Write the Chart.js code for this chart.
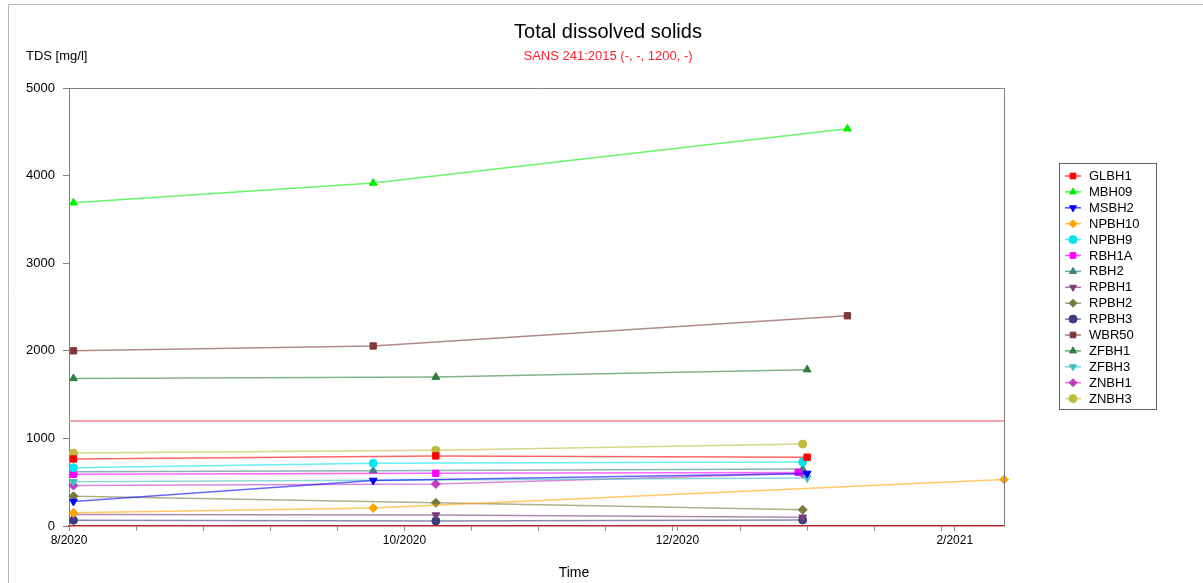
<!DOCTYPE html>
<html>
<head>
<meta charset="utf-8">
<script src="https://cdn.jsdelivr.net/npm/chart.js@4.4.0/dist/chart.umd.min.js"></script>
<style>
  html, body { margin: 0; padding: 0; background: #ffffff; }
  #wrap { width: 1203px; height: 583px; position: relative; }
</style>
</head>
<body>
<div id="wrap"><canvas id="c" width="1203" height="583"></canvas></div>
<script>
// Sampling dates (one column per field visit)
const sampleDates = ['2020-07-19', '2020-09-24', '2020-10-08', '2020-12-28', '2020-12-29', '2020-12-30', '2021-01-08', '2021-02-12'];

// TDS per borehole in mg/l, aligned with sampleDates (null = not sampled)
const GLBH1  = [765,  null, 800,  null, null, 785,  null, null];
const MBH09  = [3690, 3915, null, null, null, null, 4535, null];
const MSBH2  = [280,  520,  null, null, null, 600,  null, null];
const NPBH10 = [150,  205,  null, null, null, null, null, 530];
const NPBH9  = [665,  715,  null, null, 730,  null, null, null];
const RBH1A  = [590,  null, 601,  612,  null, null, null, null];
const RBH2   = [620,  632,  null, null, 650,  null, null, null];
const RPBH1  = [130,  null, 125,  null, 100,  null, null, null];
const RPBH2  = [340,  null, 265,  null, 185,  null, null, null];
const RPBH3  = [65,   null, 58,   null, 68,   null, null, null];
const WBR50  = [2000, 2055, null, null, null, null, 2400, null];
const ZFBH1  = [1685, null, 1700, null, null, 1785, null, null];
const ZFBH3  = [505,  null, null, null, null, 548,  null, null];
const ZNBH1  = [462,  null, 480,  null, 598,  null, null, null];
const ZNBH3  = [832,  null, 866,  null, 936,  null, null, null];

const seriesNames = ['GLBH1', 'MBH09', 'MSBH2', 'NPBH10', 'NPBH9', 'RBH1A', 'RBH2', 'RPBH1', 'RPBH2', 'RPBH3', 'WBR50', 'ZFBH1', 'ZFBH3', 'ZNBH1', 'ZNBH3'];
const seriesValues = [GLBH1, MBH09, MSBH2, NPBH10, NPBH9, RBH1A, RBH2, RPBH1, RPBH2, RPBH3, WBR50, ZFBH1, ZFBH3, ZNBH1, ZNBH3];

// SANS 241:2015 limit for TDS
const tdsLimit = 1200;

// Axis range and labels
const axisStart = '2020-07-18';
const axisEnd = '2021-02-12';
const xTickDates = ['2020-07-18', '2020-10-01', '2020-12-01', '2021-02-01'];
const xTickLabels = ['8/2020', '10/2020', '12/2020', '2/2021'];
const minorStepDays = 15;
const yTicks = [0, 1000, 2000, 3000, 4000, 5000];

// Marker styling per borehole
const styles = {
  GLBH1:  { color: '#ff0000', shape: 'rect',     rot: 0 },
  MBH09:  { color: '#00ee00', shape: 'triangle', rot: 0 },
  MSBH2:  { color: '#0000ff', shape: 'triangle', rot: 180 },
  NPBH10: { color: '#ffa500', shape: 'rectRot',  rot: 0 },
  NPBH9:  { color: '#00e5ee', shape: 'circle',   rot: 0 },
  RBH1A:  { color: '#ff00ff', shape: 'rect',     rot: 0 },
  RBH2:   { color: '#3c8080', shape: 'triangle', rot: 0 },
  RPBH1:  { color: '#7a3c7a', shape: 'triangle', rot: 180 },
  RPBH2:  { color: '#7a7a3c', shape: 'rectRot',  rot: 0 },
  RPBH3:  { color: '#3c3c80', shape: 'circle',   rot: 0 },
  WBR50:  { color: '#7f3a3a', shape: 'rect',     rot: 0 },
  ZFBH1:  { color: '#2f7f3c', shape: 'triangle', rot: 0 },
  ZFBH3:  { color: '#3cc0c0', shape: 'triangle', rot: 180 },
  ZNBH1:  { color: '#c03cc0', shape: 'rectRot',  rot: 0 },
  ZNBH3:  { color: '#bdbd3a', shape: 'circle',   rot: 0 }
};

const FONT = '"Liberation Sans", Arial, sans-serif';

function dayNum(s) {
  const p = s.split('-').map(Number);
  return Date.UTC(p[0], p[1] - 1, p[2]) / 86400000;
}

function withAlpha(hex, a) {
  const n = parseInt(hex.slice(1), 16);
  return 'rgba(' + ((n >> 16) & 255) + ',' + ((n >> 8) & 255) + ',' + (n & 255) + ',' + a + ')';
}

const xMin = dayNum(axisStart);
const xMax = dayNum(axisEnd);
const xLabelByDay = {};
xTickDates.forEach((d, i) => { xLabelByDay[dayNum(d)] = xTickLabels[i]; });

const datasets = seriesNames.map((name, i) => {
  const st = styles[name];
  const pts = [];
  seriesValues[i].forEach((v, j) => {
    if (v !== null) pts.push({ x: dayNum(sampleDates[j]), y: v });
  });
  return {
    label: name,
    data: pts,
    borderColor: withAlpha(st.color, 0.6),
    backgroundColor: st.color,
    pointBackgroundColor: st.color,
    pointBorderColor: st.color,
    pointStyle: st.shape,
    pointRotation: st.rot,
    pointRadius: st.shape === 'circle' ? 4 : 4.5,
    pointBorderWidth: 1,
    borderWidth: 1.5,
    tension: 0,
    clip: false
  };
});

// Guideline limit drawn across the full time range
datasets.unshift({
  label: 'limit',
  data: [{ x: xMin, y: tdsLimit }, { x: xMax, y: tdsLimit }],
  borderColor: '#f7a3ad',
  borderWidth: 2,
  pointRadius: 0,
  tension: 0
});

// Titles, frame and boxed legend
const decorations = {
  id: 'decorations',
  afterDraw(chart) {
    const ctx = chart.ctx;
    const area = chart.chartArea;
    ctx.save();

    // outer frame
    ctx.strokeStyle = '#b4b4b4';
    ctx.lineWidth = 1;
    ctx.beginPath();
    ctx.moveTo(8.5, 583);
    ctx.lineTo(8.5, 4.5);
    ctx.lineTo(1203, 4.5);
    ctx.stroke();

    // plot frame top and right
    ctx.strokeStyle = '#808080';
    ctx.beginPath();
    ctx.moveTo(area.left, Math.round(area.top) + 0.5);
    ctx.lineTo(Math.round(area.right) + 0.5, Math.round(area.top) + 0.5);
    ctx.lineTo(Math.round(area.right) + 0.5, area.bottom);
    ctx.stroke();

    ctx.textBaseline = 'middle';
    ctx.textAlign = 'center';
    ctx.fillStyle = '#000000';
    ctx.font = '20px ' + FONT;
    ctx.fillText('Total dissolved solids', 608, 32);
    ctx.fillStyle = '#ff1f2f';
    ctx.font = '13px ' + FONT;
    ctx.fillText('SANS 241:2015 (-, -, 1200, -)', 608, 56);
    ctx.fillStyle = '#000000';
    ctx.textAlign = 'left';
    ctx.fillText('TDS [mg/l]', 26, 56);
    ctx.textAlign = 'center';
    ctx.font = '14px ' + FONT;
    ctx.fillText('Time', 574, 573);

    // legend box
    const lx = 1059, ly = 163, lw = 97, lh = 246;
    ctx.strokeStyle = '#606060';
    ctx.lineWidth = 1;
    ctx.strokeRect(lx + 0.5, ly + 0.5, lw, lh);
    ctx.font = '13px ' + FONT;
    ctx.textAlign = 'left';
    seriesNames.forEach((name, i) => {
      const st = styles[name];
      const y = 176 + i * 15.9;
      ctx.strokeStyle = withAlpha(st.color, 0.7);
      ctx.lineWidth = 1.5;
      ctx.beginPath();
      ctx.moveTo(1065, y);
      ctx.lineTo(1081, y);
      ctx.stroke();
      ctx.fillStyle = st.color;
      ctx.strokeStyle = st.color;
      ctx.lineWidth = 1;
      Chart.helpers.drawPoint(ctx, { pointStyle: st.shape, rotation: st.rot, radius: 4, borderWidth: 1 }, 1073, y);
      ctx.fillStyle = '#000000';
      ctx.fillText(name, 1089, y + 0.5);
    });
    ctx.restore();
  }
};

new Chart(document.getElementById('c'), {
  type: 'line',
  data: { datasets },
  options: {
    responsive: false,
    animation: false,
    devicePixelRatio: 1,
    layout: { padding: { left: 0, top: 88, right: 199, bottom: 0 } },
    plugins: {
      legend: { display: false },
      title: { display: false },
      tooltip: { enabled: false }
    },
    scales: {
      x: {
        type: 'linear',
        min: xMin,
        max: xMax,
        afterFit(scale) { scale.height = 57; },
        afterBuildTicks(scale) {
          const vals = new Set(xTickDates.map(dayNum));
          for (let d = xMin + minorStepDays; d <= xMax; d += minorStepDays) vals.add(d);
          scale.ticks = Array.from(vals).sort((a, b) => a - b).map(v => ({ value: v }));
        },
        ticks: {
          autoSkip: false,
          maxRotation: 0,
          padding: 2,
          color: '#000000',
          font: { family: FONT, size: 12 },
          callback(v) { return xLabelByDay[v] || ''; }
        },
        grid: { drawOnChartArea: false, drawTicks: true, tickLength: 5, tickColor: '#909090' },
        border: { color: '#b22a2a', width: 1.5 }
      },
      y: {
        min: 0,
        max: 5000,
        afterFit(scale) { scale.width = 69; },
        afterBuildTicks(scale) { scale.ticks = yTicks.map(v => ({ value: v })); },
        ticks: {
          padding: 8,
          color: '#000000',
          font: { family: FONT, size: 13 },
          callback(v) { return String(v); }
        },
        grid: { drawOnChartArea: false, drawTicks: true, tickLength: 6, tickColor: '#808080' },
        border: { color: '#808080', width: 1 }
      }
    }
  },
  plugins: [decorations]
});
</script>
</body>
</html>
